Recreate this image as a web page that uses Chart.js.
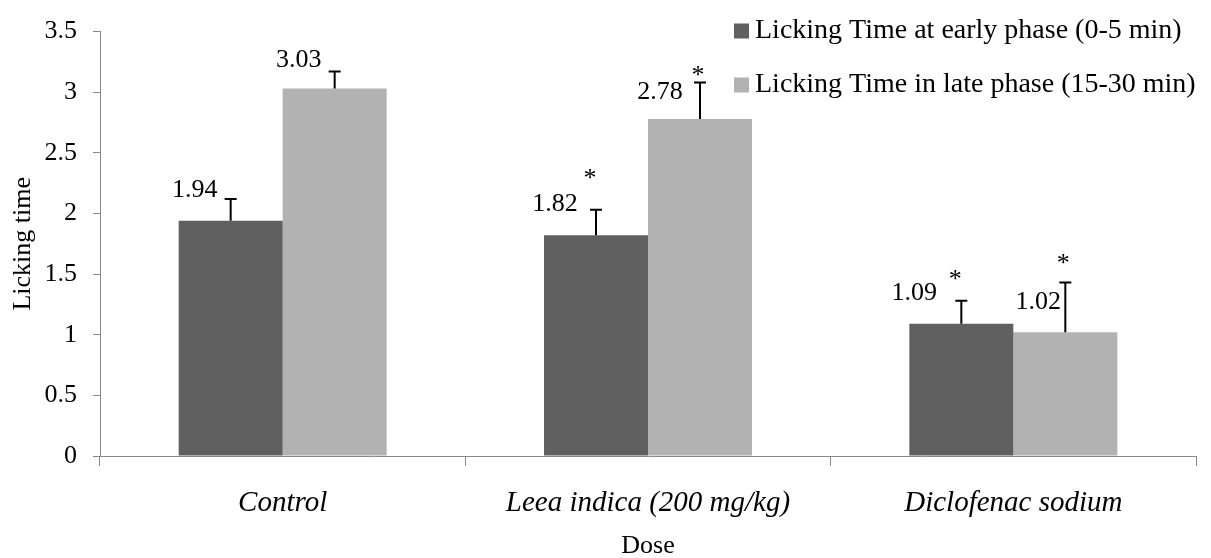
<!DOCTYPE html>
<html>
<head>
<meta charset="utf-8">
<script src="https://cdn.jsdelivr.net/npm/chart.js@4.4.0/dist/chart.umd.min.js"></script>
<style>
  html, body { margin: 0; padding: 0; background: #ffffff; }
  #wrap { width: 1211px; height: 558px; }
</style>
</head>
<body>
<div id="wrap"><canvas id="c" width="1211" height="558"></canvas></div>
<script>
// ---- data ----
const categories = ['Control', 'Leea indica (200 mg/kg)', 'Diclofenac sodium'];
const seriesNames = ['Licking Time at early phase (0-5 min)', 'Licking Time in late phase (15-30 min)'];
const earlyPhase = [1.94, 1.82, 1.09];
const latePhase = [3.03, 2.78, 1.02];
const earlyError = [0.18, 0.21, 0.19];
const lateError = [0.14, 0.30, 0.41];
const earlySignificant = [false, true, true];
const lateSignificant = [false, true, true];
const yTickValues = [0, 0.5, 1, 1.5, 2, 2.5, 3, 3.5];

// ---- styling ----
const FONT = 'Liberation Serif';
const AXIS_GREY = '#898989';
const COLORS = ['#606060', '#b2b2b2'];

const errors = [earlyError, lateError];
const significant = [earlySignificant, lateSignificant];

const annotate = {
  id: 'annotate',
  afterDatasetsDraw(chart, args, opts) {
    const ctx = chart.ctx;
    const yScale = chart.scales.y;
    ctx.save();
    chart.data.datasets.forEach((ds, i) => {
      const meta = chart.getDatasetMeta(i);
      meta.data.forEach((bar, j) => {
        const value = ds.data[j];
        const topY = yScale.getPixelForValue(value + errors[i][j]);
        // error bar (upper only)
        ctx.strokeStyle = '#000';
        ctx.lineWidth = 2;
        ctx.beginPath();
        ctx.moveTo(bar.x, bar.y);
        ctx.lineTo(bar.x, topY);
        ctx.moveTo(bar.x - 6, topY);
        ctx.lineTo(bar.x + 6, topY);
        ctx.stroke();
        // value label
        const lo = opts.labelOffsets[i][j];
        ctx.fillStyle = '#000';
        ctx.font = '26px "' + FONT + '"';
        ctx.textAlign = 'center';
        ctx.textBaseline = 'middle';
        ctx.fillText(value.toFixed(2), bar.x + lo[0], bar.y + lo[1]);
        // significance mark
        if (significant[i][j]) {
          const so = opts.starOffsets[i][j];
          ctx.textBaseline = 'alphabetic';
          ctx.fillText('*', bar.x + so[0], topY + so[1] + 12);
        }
      });
    });
    ctx.restore();
  },
  afterDraw(chart, args, opts) {
    const ctx = chart.ctx;
    ctx.save();
    ctx.font = '28px "' + FONT + '"';
    ctx.textAlign = 'left';
    ctx.textBaseline = 'middle';
    chart.data.datasets.forEach((ds, i) => {
      const cy = opts.legendRows[i];
      ctx.fillStyle = ds.backgroundColor;
      ctx.fillRect(opts.legendX, cy - 7.5, 15, 15);
      ctx.fillStyle = '#000';
      ctx.fillText(ds.label, opts.legendX + 21, cy);
    });
    ctx.restore();
  }
};

new Chart(document.getElementById('c'), {
  type: 'bar',
  data: {
    labels: categories,
    datasets: [
      { label: seriesNames[0], data: earlyPhase, backgroundColor: COLORS[0], borderWidth: 0 },
      { label: seriesNames[1], data: latePhase, backgroundColor: COLORS[1], borderWidth: 0 }
    ]
  },
  options: {
    responsive: false,
    devicePixelRatio: 1,
    animation: false,
    layout: { padding: { left: 0, right: 15, top: 24, bottom: 0 } },
    datasets: { bar: { categoryPercentage: 0.5693, barPercentage: 1.0 } },
    plugins: {
      legend: { display: false },
      tooltip: { enabled: false },
      annotate: {
        labelOffsets: [[[-36, -31], [-41, -31], [-47, -31]], [[-36, -28], [-40, -27], [-27, -30]]],
        starOffsets: [[[0, -25], [-6, -36], [-6, -26]], [[0, -25], [-2, -12], [-2, -24]]],
        legendX: 734,
        legendRows: [31, 85]
      }
    },
    scales: {
      x: {
        grid: { offset: true, drawOnChartArea: false, drawTicks: true, tickLength: 10, color: AXIS_GREY, lineWidth: 1 },
        border: { color: AXIS_GREY, width: 1 },
        ticks: { color: '#000', font: { family: FONT, style: 'italic', size: 29 }, padding: 20, maxRotation: 0, autoSkip: false },
        title: { display: true, text: 'Dose', color: '#000', font: { family: FONT, size: 26 }, padding: { top: 0, bottom: -4 } },
        afterFit: s => { s.height = 102; }
      },
      y: {
        min: 0,
        max: 3.5,
        afterBuildTicks: s => { s.ticks = yTickValues.map(v => ({ value: v })); },
        grid: { drawOnChartArea: false, drawTicks: true, tickLength: 7, color: AXIS_GREY, lineWidth: 1 },
        border: { color: AXIS_GREY, width: 1 },
        ticks: { color: '#000', font: { family: FONT, size: 26 }, padding: 16, callback: v => String(v) },
        title: { display: true, text: 'Licking time', color: '#000', font: { family: FONT, size: 26 }, padding: { top: 8, bottom: 0 } },
        afterFit: s => { s.width = 100; }
      }
    }
  },
  plugins: [annotate]
});
</script>
</body>
</html>
